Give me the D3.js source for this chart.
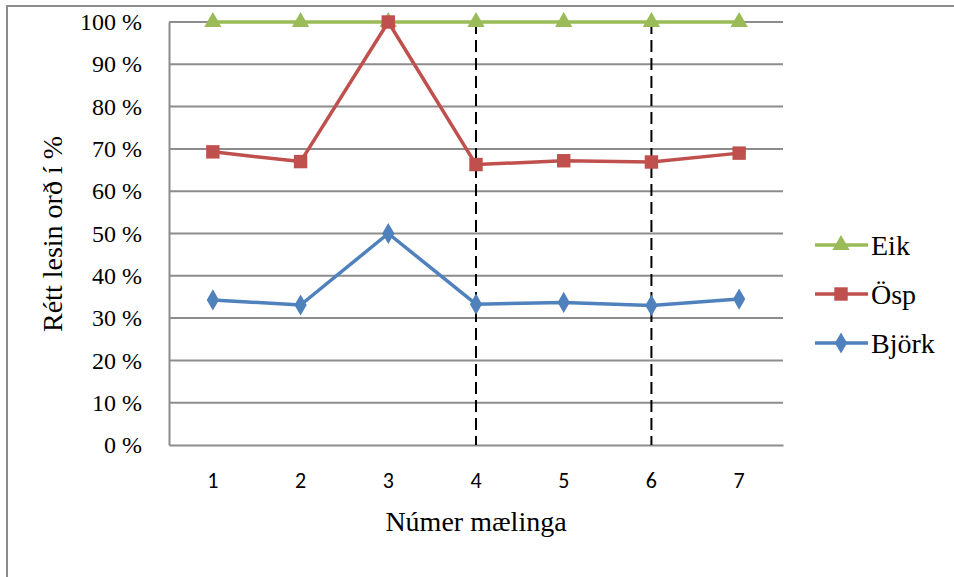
<!DOCTYPE html>
<html>
<head>
<meta charset="utf-8">
<script src="https://cdn.jsdelivr.net/npm/d3@7"></script>
<style>
  html, body { margin: 0; padding: 0; background: #fff; }
  svg { display: block; }
</style>
</head>
<body>
<svg id="chart" width="954" height="577"></svg>
<script>
// Measurement numbers on the x axis
const categories = ["1", "2", "3", "4", "5", "6", "7"];
// Share of correctly read words per measurement (0–1)
const eik   = [1.00, 1.00, 1.00, 1.00, 1.00, 1.00, 1.00];
const osp   = [0.693, 0.670, 1.00, 0.663, 0.672, 0.669, 0.690];
const bjork = [0.343, 0.331, 0.500, 0.333, 0.337, 0.330, 0.345];
const yTicks = [0, 0.1, 0.2, 0.3, 0.4, 0.5, 0.6, 0.7, 0.8, 0.9, 1.0];
// Measurements marked with a dashed vertical line
const markedCategories = ["4", "6"];

const series = [
  { name: "Eik",   values: eik,   color: "#9BBB59", symbol: d3.symbolTriangle, size: 130 },
  { name: "Ösp",   values: osp,   color: "#C0504D", symbol: d3.symbolSquare,   size: 180 },
  { name: "Björk", values: bjork, color: "#4F81BD", symbol: d3.symbolDiamond,  size: 130 }
];

const SERIF = "Liberation Serif";
const SANS = "Carlito";

const svg = d3.select("#chart");
const plot = { left: 169, right: 783, top: 22, bottom: 445 };
const gridColor = "#8C8C8C";

// Outer frame
svg.append("rect")
  .attr("x", 7).attr("y", 6)
  .attr("width", 1000).attr("height", 700)
  .attr("fill", "none").attr("stroke", gridColor).attr("stroke-width", 2);

const x = d3.scaleBand().domain(categories).range([plot.left, plot.right]).padding(0);
const y = d3.scaleLinear().domain([0, 1]).range([plot.bottom, plot.top]);
const cx = c => x(c) + x.bandwidth() / 2;
const pct = d => Math.round(d * 100) + " %";

// Horizontal gridlines
svg.append("g").selectAll("line").data(yTicks.filter(t => t > 0)).join("line")
  .attr("x1", plot.left).attr("x2", plot.right)
  .attr("y1", d => y(d)).attr("y2", d => y(d))
  .attr("stroke", gridColor).attr("stroke-width", 2);

// Axis lines
const gy = svg.append("g").attr("transform", `translate(${plot.left},0)`)
  .call(d3.axisLeft(y).tickValues(yTicks).tickSize(0).tickFormat(""));
gy.select(".domain").attr("stroke", gridColor).attr("stroke-width", 2);

const gx = svg.append("g").attr("transform", `translate(0,${plot.bottom})`)
  .call(d3.axisBottom(x).tickSize(0).tickFormat(""));
gx.select(".domain").attr("stroke", gridColor).attr("stroke-width", 2);

// Tick labels
svg.append("g").selectAll("text").data(yTicks).join("text")
  .attr("x", plot.left - 27).attr("y", d => y(d)).attr("dy", "0.34em")
  .attr("text-anchor", "end")
  .attr("font-family", SERIF).attr("font-size", 24).attr("fill", "#000")
  .text(pct);

svg.append("g").selectAll("text").data(categories).join("text")
  .attr("x", d => cx(d)).attr("y", plot.bottom + 43)
  .attr("text-anchor", "middle")
  .attr("font-family", SANS).attr("font-size", 22).attr("fill", "#000")
  .text(d => d);

// Dashed markers for selected measurements
svg.append("g").selectAll("line").data(markedCategories).join("line")
  .attr("x1", d => cx(d)).attr("x2", d => cx(d))
  .attr("y1", plot.top).attr("y2", plot.bottom)
  .attr("stroke", "#000").attr("stroke-width", 2)
  .attr("stroke-dasharray", "12,6");

// Series lines and markers
const line = d3.line().x((d, i) => cx(categories[i])).y(d => y(d));
series.forEach(s => {
  const g = svg.append("g");
  g.append("path").datum(s.values)
    .attr("d", line).attr("fill", "none")
    .attr("stroke", s.color).attr("stroke-width", 3.5)
    .attr("stroke-linejoin", "round");
  g.selectAll("path.pt").data(s.values).join("path").attr("class", "pt")
    .attr("transform", (d, i) => `translate(${cx(categories[i])},${y(d)})`)
    .attr("d", d3.symbol().type(s.symbol).size(s.size))
    .attr("fill", s.color);
});

// Axis titles
svg.append("text")
  .attr("x", (plot.left + plot.right) / 2).attr("y", 531)
  .attr("text-anchor", "middle")
  .attr("font-family", SERIF).attr("font-size", 28).attr("fill", "#000")
  .text("Númer mælinga");

svg.append("text")
  .attr("transform", "translate(62,234) rotate(-90)")
  .attr("text-anchor", "middle")
  .attr("font-family", SERIF).attr("font-size", 28).attr("fill", "#000")
  .text("Rétt lesin orð í %");

// Legend
const legend = svg.append("g");
const legendY = [245, 294, 343];
series.forEach((s, i) => {
  const g = legend.append("g").attr("transform", `translate(0,${legendY[i]})`);
  g.append("line").attr("x1", 815).attr("x2", 868).attr("y1", 0).attr("y2", 0)
    .attr("stroke", s.color).attr("stroke-width", 3.5);
  g.append("path").attr("transform", "translate(841,0)")
    .attr("d", d3.symbol().type(s.symbol).size(s.size)).attr("fill", s.color);
  g.append("text").attr("x", 871).attr("y", 0).attr("dy", "0.35em")
    .attr("font-family", SERIF).attr("font-size", 28).attr("fill", "#000")
    .text(s.name);
});
</script>
</body>
</html>
